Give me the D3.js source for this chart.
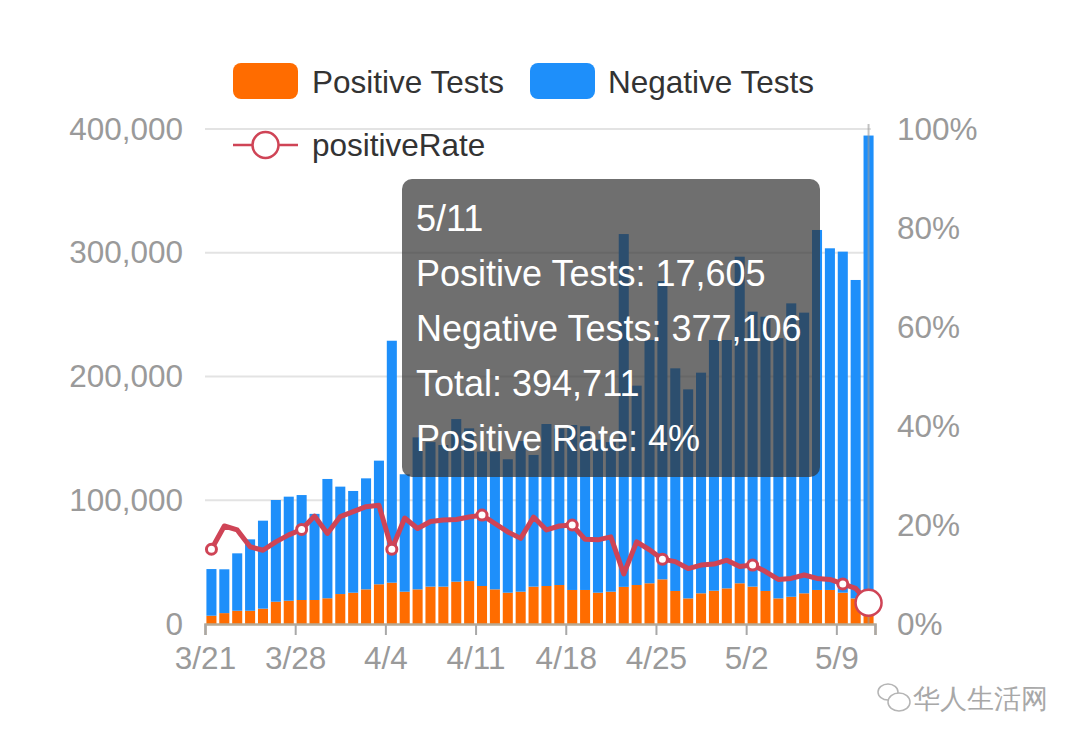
<!DOCTYPE html>
<html>
<head>
<meta charset="utf-8">
<script src="https://cdn.jsdelivr.net/npm/d3@7"></script>
<style>
  body { margin: 0; background: #fff; }
  text { font-family: "Liberation Sans", Arial, sans-serif; }
</style>
</head>
<body>
<svg id="chart" width="1080" height="746"></svg>
<script>
var dates = ["3/21","3/22","3/23","3/24","3/25","3/26","3/27","3/28","3/29","3/30","3/31",
	"4/1","4/2","4/3","4/4","4/5","4/6","4/7","4/8","4/9","4/10","4/11","4/12","4/13","4/14","4/15",
	"4/16","4/17","4/18","4/19","4/20","4/21","4/22","4/23","4/24","4/25","4/26","4/27","4/28","4/29","4/30",
	"5/1","5/2","5/3","5/4","5/5","5/6","5/7","5/8","5/9","5/10","5/11"];

var positiveTests = [6700,8800,10700,10700,12400,18000,18800,19400,19400,20800,24200,
	25300,28000,32100,33400,26100,28000,30200,30200,34200,34700,30700,28000,25300,26100,30200,
	30700,31500,27500,27500,25300,26100,30000,31500,32900,36100,26700,20700,24800,26900,28800,
	32900,30200,26700,20700,22000,24800,27500,27500,25300,20700,17605];

var negativeTests = [37700,35400,46400,57700,71100,82200,84100,84800,69600,96400,86800,
	82200,89700,99900,195500,94900,122800,116800,114400,131400,123400,108600,111300,107800,121800,106400,
	130900,126500,133300,132300,123700,120900,285100,161100,196600,241000,179900,168900,178300,202600,200700,
	263900,222200,221600,210300,237100,226800,290900,276100,275600,257300,377106];

// percent
var positiveRate = [15.1,19.8,19.0,15.6,14.9,16.6,18.0,19.1,21.8,18.3,21.7,
	22.7,23.7,24.0,15.1,21.4,19.3,20.7,21.0,21.1,21.6,22.0,20.3,18.6,17.3,21.6,
	19.0,19.8,20.0,17.1,17.0,17.6,10.1,16.6,15.0,13.1,12.6,11.2,11.9,12.1,12.9,
	11.6,11.9,10.6,9.0,9.2,9.9,9.2,9.0,8.1,7.2,4.3];

var leftTicks = [0, 100000, 200000, 300000, 400000];
var rightTicks = [0, 20, 40, 60, 80, 100];
var dateTicks = [0, 7, 14, 21, 28, 35, 42, 49, 52];

var posColor = "#ff6c00",
	negColor = "#1e8ffa",
	rateColor = "#cf4456",
	axisFont = 31.5;

var plot = { left: 205, right: 875, top: 129, bottom: 624 };

var svg = d3.select("#chart");

var x = d3.scaleBand()
	.domain(dates)
	.range([plot.left, plot.right])
	.paddingInner(0.22)
	.paddingOuter(0.11);

var xi = d3.scaleLinear().domain([0, dates.length]).range([plot.left, plot.right]);

var yL = d3.scaleLinear().domain([0, 400000]).range([plot.bottom, plot.top]);
var yR = d3.scaleLinear().domain([0, 100]).range([plot.bottom, plot.top]);

// grid
svg.append("g").selectAll("line")
	.data(leftTicks.slice(1))
	.enter().append("line")
	.attr("x1", plot.left).attr("x2", plot.right - 4)
	.attr("y1", function(d){ return yL(d); })
	.attr("y2", function(d){ return yL(d); })
	.attr("stroke", "#e3e3e3")
	.attr("stroke-width", 2);

// left axis
var gL = svg.append("g")
	.attr("transform", "translate(" + plot.left + ",0)")
	.call(d3.axisLeft(yL).tickValues(leftTicks).tickFormat(d3.format(",")).tickSize(0).tickPadding(22));
gL.select(".domain").remove();
gL.selectAll("text").attr("font-size", axisFont).attr("fill", "#9a9a9a").attr("font-family", "Liberation Sans, Arial, sans-serif");

// right axis
var gR = svg.append("g")
	.attr("transform", "translate(" + plot.right + ",0)")
	.call(d3.axisRight(yR).tickValues(rightTicks).tickFormat(function(d){ return d + "%"; }).tickSize(0).tickPadding(22));
gR.select(".domain").remove();
gR.selectAll("text").attr("font-size", axisFont).attr("fill", "#9a9a9a").attr("font-family", "Liberation Sans, Arial, sans-serif");

// stacked bars
var rows = dates.map(function(d, i){
	return { date: d, pos: positiveTests[i], neg: negativeTests[i] };
});
var stack = d3.stack().keys(["pos", "neg"])(rows);
var colors = { pos: posColor, neg: negColor };

svg.append("g").selectAll("g")
	.data(stack)
	.enter().append("g")
	.attr("fill", function(s){ return colors[s.key]; })
	.selectAll("rect")
	.data(function(s){ return s; })
	.enter().append("rect")
	.attr("x", function(d){ return x(d.data.date); })
	.attr("width", x.bandwidth())
	.attr("y", function(d){ return yL(d[1]); })
	.attr("height", function(d){ return yL(d[0]) - yL(d[1]); });

// x axis
var gX = svg.append("g")
	.attr("transform", "translate(0," + plot.bottom + ")")
	.call(d3.axisBottom(xi).tickValues(dateTicks)
		.tickFormat(function(i){ return i < dates.length ? dates[i] : ""; })
		.tickSize(11).tickPadding(12));
gX.select(".domain").attr("stroke", "#b8a993").attr("stroke-width", 2.5);
gX.selectAll(".tick line").attr("stroke", "#a8a8a8").attr("stroke-width", 2);
gX.selectAll("text").attr("font-size", axisFont).attr("fill", "#9a9a9a").attr("font-family", "Liberation Sans, Arial, sans-serif");

// hover pointer line at last date
var last = dates.length - 1;
var cx = function(i){ return x(dates[i]) + x.bandwidth() / 2; };
svg.append("line")
	.attr("x1", cx(last)).attr("x2", cx(last))
	.attr("y1", plot.top - 5).attr("y2", plot.bottom)
	.attr("stroke", "#999").attr("stroke-opacity", 0.6).attr("stroke-width", 2);

// positive rate line
var line = d3.line()
	.x(function(d, i){ return cx(i); })
	.y(function(d){ return yR(d); });

svg.append("path")
	.datum(positiveRate)
	.attr("d", line)
	.attr("fill", "none")
	.attr("stroke", rateColor)
	.attr("stroke-width", 5)
	.attr("stroke-linejoin", "round");

svg.append("g").selectAll("circle")
	.data(positiveRate.map(function(v, i){ return { v: v, i: i }; })
		.filter(function(d){ return d.i % 7 === 0 && d.i !== last; }))
	.enter().append("circle")
	.attr("cx", function(d){ return cx(d.i); })
	.attr("cy", function(d){ return yR(d.v); })
	.attr("r", 5)
	.attr("fill", "#fff")
	.attr("stroke", rateColor)
	.attr("stroke-width", 3);

svg.append("circle")
	.attr("cx", cx(last))
	.attr("cy", yR(positiveRate[last]))
	.attr("r", 13)
	.attr("fill", "#fff")
	.attr("stroke", rateColor)
	.attr("stroke-width", 2.5);

// legend
var legend = svg.append("g");
legend.append("rect").attr("x", 233).attr("y", 63).attr("width", 65).attr("height", 36).attr("rx", 8).attr("fill", posColor);
legend.append("text").attr("x", 312).attr("y", 93).attr("font-size", axisFont).attr("fill", "#333").text("Positive Tests");
legend.append("rect").attr("x", 530).attr("y", 63).attr("width", 65).attr("height", 36).attr("rx", 8).attr("fill", negColor);
legend.append("text").attr("x", 608).attr("y", 93).attr("font-size", axisFont).attr("fill", "#333").text("Negative Tests");
legend.append("line").attr("x1", 233).attr("x2", 298).attr("y1", 145).attr("y2", 145)
	.attr("stroke", rateColor).attr("stroke-width", 2.5);
legend.append("circle").attr("cx", 265.5).attr("cy", 145).attr("r", 13)
	.attr("fill", "#fff").attr("stroke", rateColor).attr("stroke-width", 2.5);
legend.append("text").attr("x", 312).attr("y", 156).attr("font-size", axisFont).attr("fill", "#333").text("positiveRate");

// tooltip
var fmt = d3.format(",");
var total = positiveTests[last] + negativeTests[last];
var tipLines = [
	dates[last],
	"Positive Tests: " + fmt(positiveTests[last]),
	"Negative Tests: " + fmt(negativeTests[last]),
	"Total: " + fmt(total),
	"Positive Rate: " + Math.round(positiveTests[last] / total * 100) + "%"
];
var tip = svg.append("g");
tip.append("rect")
	.attr("x", 402).attr("y", 179).attr("width", 418).attr("height", 298).attr("rx", 10)
	.attr("fill", "rgba(50,50,50,0.7)");
tip.selectAll("text")
	.data(tipLines)
	.enter().append("text")
	.attr("x", 416)
	.attr("y", function(d, i){ return 231 + i * 55; })
	.attr("font-size", 36)
	.attr("fill", "#fff")
	.text(function(d){ return d; });

// watermark
var wm = svg.append("g").attr("fill", "none").attr("stroke", "#b5b5b5").attr("stroke-width", 1.5);
wm.append("ellipse").attr("cx", 888).attr("cy", 692).attr("rx", 10).attr("ry", 8);
wm.append("ellipse").attr("cx", 899).attr("cy", 702).attr("rx", 11).attr("ry", 9).attr("fill", "#fff");
svg.append("text")
	.attr("x", 913).attr("y", 708)
	.attr("font-size", 27)
	.attr("fill", "#a8a8a8")
	.attr("font-family", "Noto Sans CJK SC, sans-serif")
	.text("华人生活网");
</script>
</body>
</html>
